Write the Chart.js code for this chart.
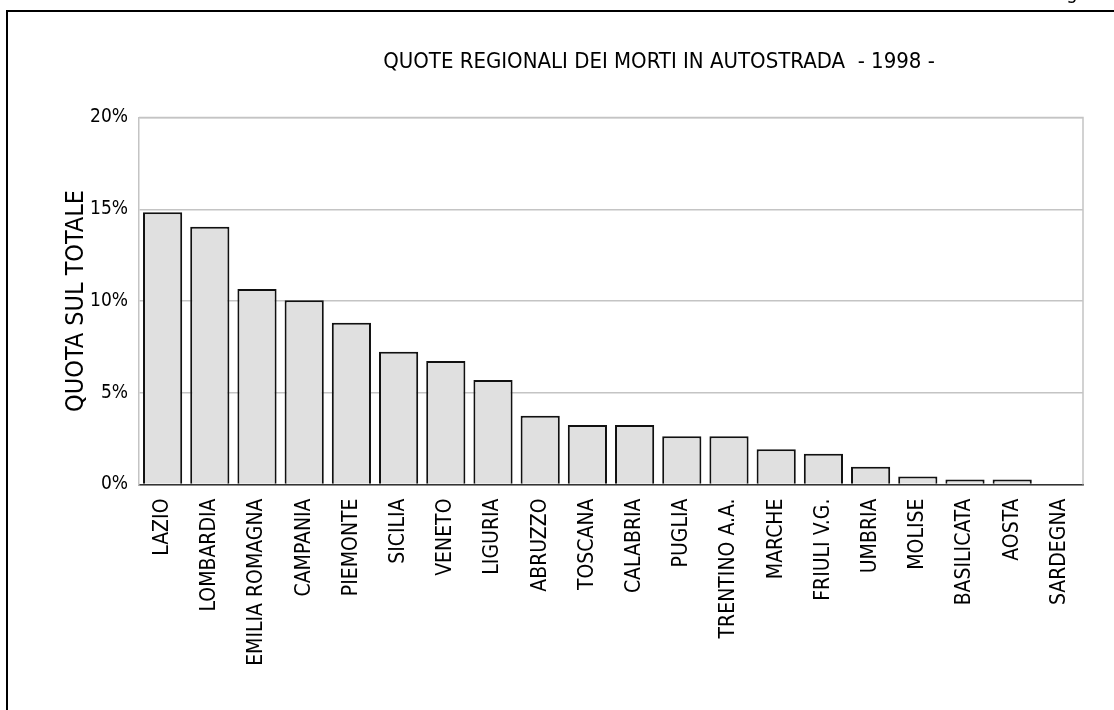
<!DOCTYPE html>
<html>
<head>
<meta charset="utf-8">
<script src="https://cdn.jsdelivr.net/npm/chart.js@4"></script>
<style>
    html, body { margin: 0; padding: 0; background: #fff; }
    #wrap { width: 1114px; height: 710px; }
</style>
</head>
<body>
<div id="wrap"><canvas id="grafico" width="1114" height="710"></canvas></div>
<script>
const regioni = [
    "LAZIO", "LOMBARDIA", "EMILIA ROMAGNA", "CAMPANIA", "PIEMONTE",
    "SICILIA", "VENETO", "LIGURIA", "ABRUZZO", "TOSCANA",
    "CALABRIA", "PUGLIA", "TRENTINO A.A.", "MARCHE", "FRIULI V.G.",
    "UMBRIA", "MOLISE", "BASILICATA", "AOSTA", "SARDEGNA",
]
const quote = [
    14.83, 14.05, 10.65, 10.04, 8.82,
    7.24, 6.73, 5.69, 3.75, 3.24,
    3.24, 2.63, 2.63, 1.92, 1.68,
    0.97, 0.43, 0.27, 0.27, 0,
]
const tickY = [0, 5, 10, 15, 20]
const titolo = "QUOTE REGIONALI DEI MORTI IN AUTOSTRADA  - 1998 -"
const titoloAsse = "QUOTA SUL TOTALE"

const FONT = "'DejaVu Sans Condensed', 'Liberation Sans', sans-serif"

// cornice, titolo e bordo grigio dell'area del grafico
const cornice = {
    id: "cornice",
    beforeDraw(chart) {
        const ctx = chart.ctx
        ctx.save()
        ctx.fillStyle = "#fff"
        ctx.fillRect(0, 0, chart.width, chart.height)
        ctx.strokeStyle = "#000"
        ctx.lineWidth = 2
        ctx.beginPath()
        ctx.moveTo(7, chart.height + 5)
        ctx.lineTo(7, 11)
        ctx.lineTo(chart.width + 5, 11)
        ctx.stroke()
        ctx.fillStyle = "#000"
        ctx.font = "20px " + FONT
        ctx.textAlign = "center"
        ctx.textBaseline = "alphabetic"
        ctx.fillText("g", 1072, -1)
        ctx.font = "22px " + FONT
        ctx.textBaseline = "middle"
        ctx.fillText(titolo, 659, 62)
        ctx.restore()
    },
    afterDatasetsDraw(chart) {
        const a = chart.chartArea
        const ctx = chart.ctx
        ctx.save()
        ctx.strokeStyle = "#c4c4c4"
        ctx.lineWidth = 1.5
        ctx.beginPath()
        ctx.moveTo(a.left, a.top)
        ctx.lineTo(a.right, a.top)
        ctx.lineTo(a.right, a.bottom)
        ctx.stroke()
        ctx.restore()
    },
}

function main() {
    new Chart(document.getElementById("grafico"), {
        type: "bar",
        data: {
            labels: regioni,
            datasets: [
                {
                    data: quote,
                    backgroundColor: "#e0e0e0",
                    borderColor: "#111",
                    borderWidth: 2,
                    borderSkipped: "bottom",
                    barPercentage: 0.83,
                    categoryPercentage: 1,
                },
            ],
        },
        options: {
            responsive: false,
            animation: false,
            layout: {
                padding: { top: 117.5, right: 31, left: 0, bottom: 0 },
            },
            scales: {
                x: {
                    grid: { display: false, drawTicks: false },
                    border: { color: "#333", width: 1.5 },
                    ticks: {
                        autoSkip: false,
                        minRotation: 90,
                        maxRotation: 90,
                        padding: 14,
                        color: "#000",
                        font: { family: FONT, size: 21 },
                    },
                    afterFit(scale) { scale.height = 225.5 },
                },
                y: {
                    min: 0,
                    max: 20,
                    afterBuildTicks(scale) {
                        scale.ticks = tickY.map(v => ({ value: v }))
                    },
                    grid: { color: "#c4c4c4", lineWidth: 1.5, drawTicks: false },
                    border: { color: "#c4c4c4", width: 1.5 },
                    ticks: {
                        padding: 11,
                        color: "#000",
                        font: { family: FONT, size: 19 },
                        callback: v => v + "%",
                    },
                    title: {
                        display: true,
                        text: titoloAsse,
                        color: "#000",
                        font: { family: FONT, size: 25 },
                        padding: { top: 61, bottom: 0 },
                    },
                    afterFit(scale) { scale.width = 139 },
                },
            },
            plugins: {
                legend: { display: false },
                tooltip: { enabled: false },
            },
        },
        plugins: [cornice],
    })
}

document.addEventListener("DOMContentLoaded", main)
</script>
</body>
</html>
